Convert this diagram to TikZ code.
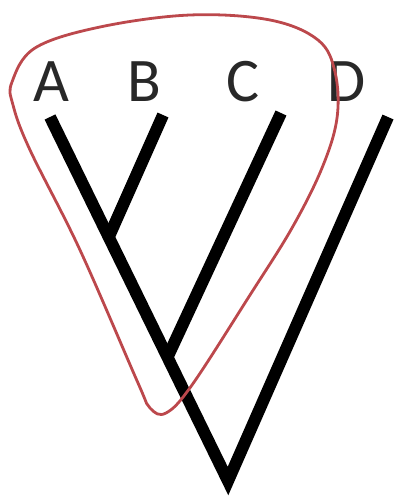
\documentclass[tikz,border=0pt]{standalone}
\usepackage{fontspec}
\setmainfont{Carlito}
\usepackage{tikz}
\usetikzlibrary{positioning,calc}

\definecolor{loopred}{RGB}{188,72,76}
\definecolor{labelgray}{RGB}{40,40,40}

\begin{document}
\begin{tikzpicture}[x=0.5pt, y=-0.5pt]
\useasboundingbox (0,0) rectangle (393,502);
\tikzset{
  branch/.style={line width=6pt, black, line join=miter, line cap=butt},
  taxon/.style={text=labelgray, font=\fontsize{31}{31}\selectfont, inner sep=0pt}
}

% Tips and root
\coordinate (tipA) at (50,117);
\coordinate (tipB) at (163,115);
\coordinate (tipC) at (281,113);
\coordinate (tipD) at (388,117);
\coordinate (root) at (228,481);
\coordinate (nodeAB) at ($(tipA)!0.33!(root)$);
\coordinate (nodeABC) at ($(tipA)!0.66!(root)$);

% Labels
\node[taxon] (labA) at (51,82) {A};
\node[taxon] (labB) at (144,82) {B};
\node[taxon] (labC) at (243,82) {C};
\node[taxon] (labD) at (347,82) {D};

% Branches
\draw[branch] (tipA) -- (root) -- (tipD);
\draw[branch] (tipB) -- (nodeAB);
\draw[branch] (tipC) -- (nodeABC);

% Clade loop round A, B, C
\draw[loopred, line width=1.4pt, tension=0.6] plot[smooth cycle] coordinates {
  (12,82) (35,48) (100,27) (190,15) (270,20) (318,40) (335,72) (337,118)
  (322,168) (292,228) (250,295) (192,385) (166,413) (150,408) (138,383)
  (80,250) (30,150) (13,105)};

\end{tikzpicture}
\end{document}
